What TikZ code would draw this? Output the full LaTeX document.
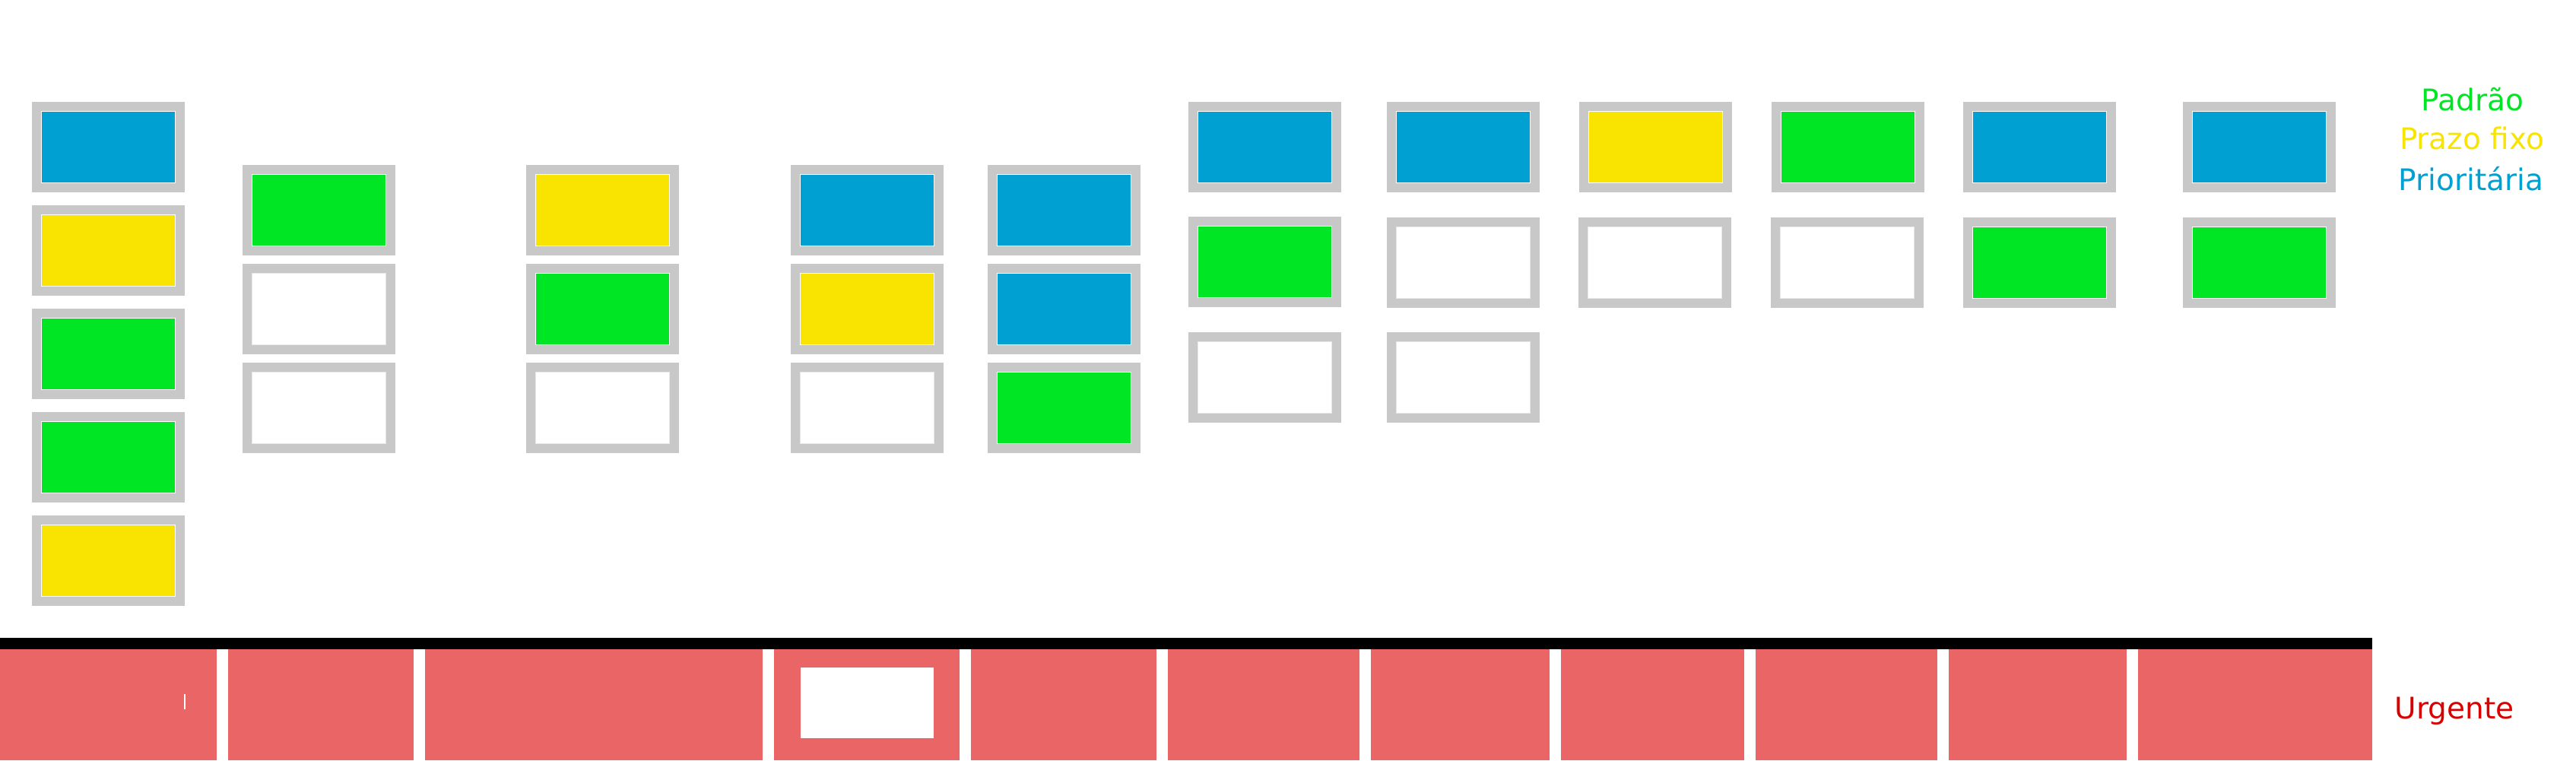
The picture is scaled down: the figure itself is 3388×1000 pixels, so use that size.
\documentclass[tikz,border=0pt]{standalone}
\usepackage{fontspec}
\setmainfont{DejaVu Sans}
\definecolor{cardgrey}{HTML}{C8C8C8}
\definecolor{pblue}{HTML}{00A0D3}
\definecolor{pyellow}{HTML}{F8E400}
\definecolor{pgreen}{HTML}{00E524}
\definecolor{ured}{HTML}{EA6666}
\definecolor{utext}{HTML}{D90000}
\definecolor{emptyline}{HTML}{E8E8E8}
\newcommand\kcard[4]{%
  \fill[cardgrey] (#1,#2) rectangle ++(201,119);
  \filldraw[fill=#3, draw=#4, line width=0.015cm] (#1+12.3,#2+12.3) rectangle ++(176.4,94.4);
}
\newcommand\fullcard[3]{\kcard{#1}{#2}{#3}{white}}
\newcommand\emptycard[2]{\kcard{#1}{#2}{white}{emptyline}}
\tikzset{
  legendtext/.style={anchor=base, font=\fontsize{11.1}{13}\selectfont, inner sep=0pt},
  redseg/.style={fill=ured}
}
\begin{document}
\begin{tikzpicture}[x=0.01cm,y=-0.01cm]
\useasboundingbox (0,0) rectangle (3388,1000);
% column 1
\fullcard{42}{134}{pblue}
\fullcard{42}{270}{pyellow}
\fullcard{42}{406}{pgreen}
\fullcard{42}{542}{pgreen}
\fullcard{42}{678}{pyellow}
% column 2
\fullcard{319}{217}{pgreen}
\emptycard{319}{347}
\emptycard{319}{477}
% column 3
\fullcard{692}{217}{pyellow}
\fullcard{692}{347}{pgreen}
\emptycard{692}{477}
% column 4
\fullcard{1040}{217}{pblue}
\fullcard{1040}{347}{pyellow}
\emptycard{1040}{477}
% column 5
\fullcard{1299}{217}{pblue}
\fullcard{1299}{347}{pblue}
\fullcard{1299}{477}{pgreen}
% column 6
\fullcard{1563}{134}{pblue}
\fullcard{1563}{285}{pgreen}
\emptycard{1563}{437}
% column 7
\fullcard{1824}{134}{pblue}
\emptycard{1824}{286}
\emptycard{1824}{437}
% column 8
\fullcard{2077}{134}{pyellow}
\emptycard{2076}{286}
% column 9
\fullcard{2330}{134}{pgreen}
\emptycard{2329}{286}
% column 10
\fullcard{2582}{134}{pblue}
\fullcard{2582}{286}{pgreen}
% column 11
\fullcard{2871}{134}{pblue}
\fullcard{2871}{286}{pgreen}
% black line
\fill[black] (0,839) rectangle (3120,854);
% urgent lane segments
\fill[redseg] (0,854) rectangle (285,1000);
\fill[redseg] (300,854) rectangle (544,1000);
\fill[redseg] (559,854) rectangle (1003,1000);
\fill[redseg] (1018,854) rectangle (1262,1000);
\fill[redseg] (1277,854) rectangle (1521,1000);
\fill[redseg] (1536,854) rectangle (1788,1000);
\fill[redseg] (1803,854) rectangle (2038,1000);
\fill[redseg] (2053,854) rectangle (2294,1000);
\fill[redseg] (2309,854) rectangle (2548,1000);
\fill[redseg] (2563,854) rectangle (2797,1000);
\fill[redseg] (2812,854) rectangle (3120,1000);
\fill[white] (1053,878) rectangle (1228,971);
\fill[white] (242,913) rectangle (244,933);
% legend
\node[legendtext, text=pgreen] (padrao) at (3252,145.7) {Padrão};
\node[legendtext, text=pyellow] (prazo) at (3251,196.7) {Prazo fixo};
\node[legendtext, text=pblue] (prior) at (3250,250) {Prioritária};
\node[legendtext, text=utext] (urgente) at (3228,945) {Urgente};
\end{tikzpicture}
\end{document}
